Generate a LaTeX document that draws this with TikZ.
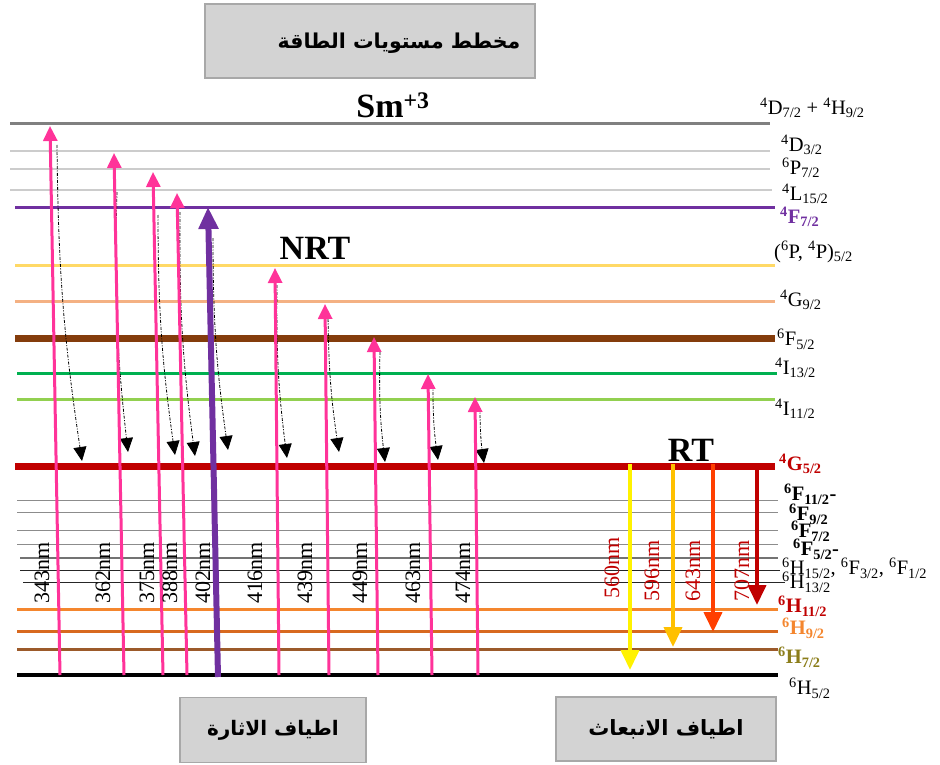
\documentclass[tikz,border=0pt]{standalone}
\usepackage{fontspec}
\setmainfont{Liberation Serif}
\newfontfamily\arabicfont[Script=Arabic]{DejaVu Sans}
\usetikzlibrary{arrows.meta}
\TeXXeTstate=1
% spectroscopic term symbol: ^{2S+1}L_J
\newcommand{\tsym}[3]{\textsuperscript{#1}#2\textsubscript{#3}}
\definecolor{cPink}{HTML}{FF3399}
\definecolor{cPurple}{HTML}{7030A0}
\definecolor{cGold}{HTML}{FFD966}
\definecolor{cPeach}{HTML}{F4B183}
\definecolor{cBrown}{HTML}{843C0C}
\definecolor{cGreen}{HTML}{00B050}
\definecolor{cLime}{HTML}{92D050}
\definecolor{cDarkRed}{HTML}{C00000}
\definecolor{cOrangeA}{HTML}{F4862E}
\definecolor{cOrangeB}{HTML}{D8691F}
\definecolor{cBrownB}{HTML}{9C5A2A}
\definecolor{cAmber}{HTML}{FFC000}
\definecolor{cRedOr}{HTML}{FF3F00}
\definecolor{cOlive}{HTML}{8B7D1A}
\definecolor{cBox}{HTML}{D3D3D3}
\definecolor{cBoxLine}{HTML}{A8A8A8}
\begin{document}
\begin{tikzpicture}[x=1pt,y=-1pt,
  titlebox/.style={draw=cBoxLine, line width=1.5pt, fill=cBox, inner sep=0pt},
  pump/.style={cPink, line width=3pt, -{Triangle[width=14pt,length=15pt]}},
  relax/.style={black, line width=0.8pt, dash pattern=on 3pt off 1.5pt on 1pt off 1.5pt,
    -{Triangle[width=13pt,length=14pt]}},
  emit/.style={line width=4pt, -{Triangle[width=18pt,length=20pt]}},
  wl/.style={rotate=90, inner sep=0pt, font=\fontsize{22}{22}\selectfont},
  term/.style={anchor=west, inner sep=0pt, font=\fontsize{20.5}{20.5}\selectfont},
  bterm/.style={term, font=\bfseries\fontsize{20.5}{20.5}\selectfont},
  big/.style={inner sep=0pt, font=\bfseries\fontsize{34}{34}\selectfont}]
\useasboundingbox (0,0) rectangle (940,765);

% ---------- title and caption boxes ----------
\node[titlebox, minimum width=330pt, minimum height=74pt] (title) at (370,41) {};
\node[inner sep=0pt] (titletext) at (399,43)
  {\arabicfont\bfseries\fontsize{20.5}{20.5}\selectfont\beginR مخطط مستويات الطاقة\endR};
\node[titlebox, minimum width=186pt, minimum height=65pt] (exc) at (273,730)
  {\arabicfont\bfseries\fontsize{20}{20}\selectfont\beginR اطياف الاثارة\endR};
\node[titlebox, minimum width=220pt, minimum height=64pt] (ems) at (666,729)
  {\arabicfont\bfseries\fontsize{21}{21}\selectfont\beginR اطياف الانبعاث\endR};

% ---------- energy levels ----------
\draw[line width=3pt, black!50] (10,124) -- (770,124);
\draw[line width=2pt, black!20] (10,151) -- (770,151);
\draw[line width=2pt, black!20] (10,169) -- (770,169);
\draw[line width=2pt, black!20] (10,190) -- (772,190);
\draw[line width=3pt, cPurple] (15,207) -- (775,207);
\draw[line width=3pt, cGold] (15,265) -- (775,265);
\draw[line width=3pt, cPeach] (15,301) -- (775,301);
\draw[line width=7pt, cBrown] (15,338) -- (775,338);
\draw[line width=3pt, cGreen] (17,373) -- (777,373);
\draw[line width=3pt, cLime] (17,399) -- (775,399);
\draw[line width=7pt, cDarkRed] (15,466) -- (775,466);
\draw[line width=1pt, black!45] (17,500) -- (778,500);
\draw[line width=1pt, black!45] (17,512) -- (778,512);
\draw[line width=1pt, black!45] (17,530) -- (778,530);
\draw[line width=1pt, black!45] (17,544) -- (778,544);
\draw[line width=1.5pt, black!55] (20,558) -- (778,558);
\draw[line width=1pt, black!85] (20,570) -- (780,570);
\draw[line width=1pt, black!85] (23,582) -- (785,582);
\draw[line width=3pt, cOrangeA] (17,609) -- (778,609);
\draw[line width=3pt, cOrangeB] (17,631) -- (778,631);
\draw[line width=3pt, cBrownB] (17,649) -- (778,649);
\draw[line width=3.5pt, black] (17,675) -- (778,675);

% ---------- level labels ----------
\node[term] (t1) at (760,108) {\tsym{4}{D}{7/2} + \tsym{4}{H}{9/2}};
\node[term] (t2) at (781,145) {\tsym{4}{D}{3/2}};
\node[term] (t3) at (782,168) {\tsym{6}{P}{7/2}};
\node[term] (t4) at (782,194) {\tsym{4}{L}{15/2}};
\node[bterm, text=cPurple] (t5) at (780,217) {\tsym{4}{F}{7/2}};
\node[term] (t6) at (774,252) {(\textsuperscript{6}P, \textsuperscript{4}P)\textsubscript{5/2}};
\node[term] (t7) at (780,300) {\tsym{4}{G}{9/2}};
\node[term] (t8) at (777,339) {\tsym{6}{F}{5/2}};
\node[term] (t9) at (775,368) {\tsym{4}{I}{13/2}};
\node[term] (t10) at (775,409) {\tsym{4}{I}{11/2}};
\node[bterm, text=cDarkRed] (t11) at (779,464) {\tsym{4}{G}{5/2}};
\node[bterm] (t12) at (784,494) {\tsym{6}{F}{11/2}-};
\node[bterm] (t13) at (789,514) {\tsym{6}{F}{9/2}};
\node[bterm] (t14) at (791,531) {\tsym{6}{F}{7/2}};
\node[bterm] (t15) at (793,549) {\tsym{6}{F}{5/2}-};
\node[term] (t16) at (782,568) {\tsym{6}{H}{15/2}, \tsym{6}{F}{3/2}, \tsym{6}{F}{1/2}};
\node[term] (t17) at (782,582) {\tsym{6}{H}{13/2}};
\node[bterm, text=cDarkRed] (t18) at (778,606) {\tsym{6}{H}{11/2}};
\node[bterm, text=cOrangeA] (t19) at (782,628) {\tsym{6}{H}{9/2}};
\node[bterm, text=cOlive] (t20) at (778,657) {\tsym{6}{H}{7/2}};
\node[term] (t21) at (789,688) {\tsym{6}{H}{5/2}};

% ---------- headings ----------
\node[big] (ion) at (393,105) {Sm\textsuperscript{+3}};
\node[big] (nrt) at (315,248) {NRT};
\node[big] (rt) at (691,450) {RT};

% ---------- non-radiative relaxation (dash-dot) ----------
\foreach \i/\xa/\ya/\xe/\ye in {1/57/145/82/461, 2/117/192/128/452, 3/158/215/175/455,
    4/180/212/195/456, 5/213/238/228/450, 6/277/285/287/458, 7/328/312/339/452,
    8/380/352/385/462, 9/433/385/438/460, 10/480/408/484/463}{
  \coordinate (ra\i) at (\xa,\ya);
  \coordinate (re\i) at (\xe,\ye);
  \draw[relax] (ra\i) to[bend right=4] (re\i);
}

% ---------- excitation arrows ----------
\foreach \i/\xb/\xt/\yt/\lx/\w in {1/60/50/126/42/343, 2/124/114/153/103/362,
    3/163/153/172/147/375, 4/187/177/193/170/388, 6/279/275/268/255/416,
    7/329/325/304/305/439, 8/378/374/337/360/449, 9/432/428/374/413/463,
    10/478/475/397/463/474}{
  \coordinate (pb\i) at (\xb,675);
  \coordinate (pt\i) at (\xt,\yt);
  \draw[pump] (pb\i) -- (pt\i);
  \node[wl] (wl\i) at (\lx,573) {\w nm};
}
\coordinate (pb5) at (218,677);
\coordinate (pt5) at (208,207);
\draw[cPurple, line width=6pt, -{Triangle[width=19pt,length=22pt]}] (pb5) -- (pt5);
\node[wl] (wl5) at (203,573) {402nm};

% ---------- emission arrows ----------
\coordinate (ea1) at (630,464); \coordinate (ee1) at (630,670);
\coordinate (ea2) at (673,464); \coordinate (ee2) at (673,647);
\coordinate (ea3) at (713,464); \coordinate (ee3) at (713,632);
\coordinate (ea4) at (757,464); \coordinate (ee4) at (757,605);
\draw[emit, yellow] (ea1) -- (ee1);
\draw[emit, cAmber] (ea2) -- (ee2);
\draw[emit, cRedOr] (ea3) -- (ee3);
\draw[emit, cDarkRed] (ea4) -- (ee4);
\node[wl, text=cDarkRed] (el1) at (612,568) {560nm};
\node[wl, text=cDarkRed] (el2) at (652,571) {596nm};
\node[wl, text=cDarkRed] (el3) at (693,571) {643nm};
\node[wl, text=cDarkRed] (el4) at (742,571) {707nm};
\end{tikzpicture}
\end{document}
